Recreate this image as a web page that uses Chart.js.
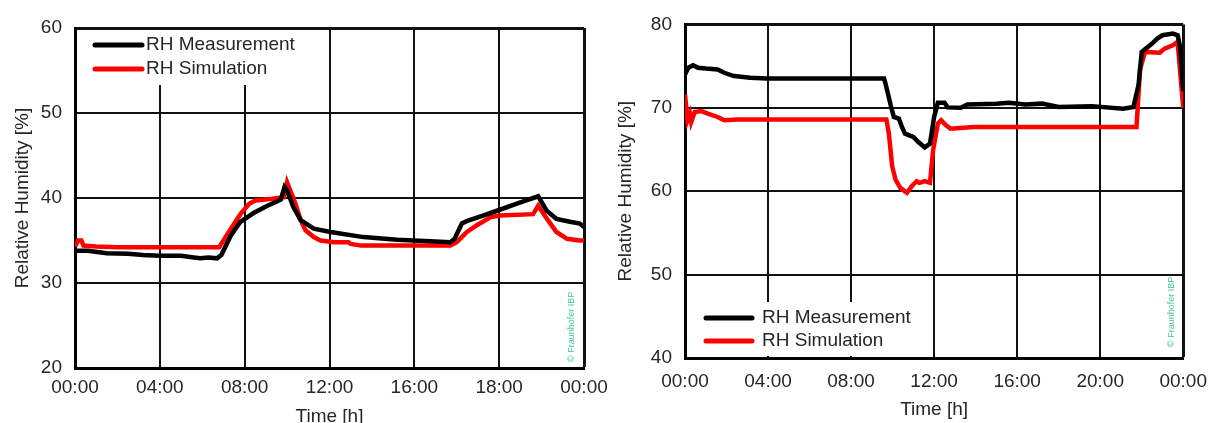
<!DOCTYPE html>
<html lang="en">
<head>
    <meta charset="UTF-8">
    <title>Relative Humidity - Measurement vs Simulation</title>
    <script src="https://cdn.jsdelivr.net/npm/chart.js@4.4.1/dist/chart.umd.min.js"></script>
    <style>
        html, body { margin: 0; padding: 0; background: #fff; overflow: hidden; }
        .panel { position: absolute; top: 0; height: 423px; }
        #leftPanel { left: 0; width: 620px; }
        #rightPanel { left: 600px; width: 619px; }
    </style>
</head>
<body>
    <div class="panel" id="leftPanel"><canvas id="rhLeft"></canvas></div>
    <div class="panel" id="rightPanel"><canvas id="rhRight"></canvas></div>

    <script>
        // left panel data (hours since midnight, RH in %)
        const leftHoursMeasured = [0, 0.6, 1.5, 2.5, 3.2, 4.0, 5.0, 5.6, 5.9, 6.3, 6.7, 6.9, 7.35, 7.8, 8.4, 9.0, 9.7, 9.88, 10.0, 10.3, 10.64, 11.26, 12.05, 13.6, 15.2, 16.75, 17.7, 17.9, 18.24, 18.5, 19.2, 19.9, 20.9, 21.84, 22.24, 22.7, 23.34, 23.8, 24];
        const leftMeasured = [33.8, 33.8, 33.5, 33.45, 33.3, 33.2, 33.2, 33.0, 32.9, 33.0, 32.9, 33.3, 35.6, 37.2, 38.2, 39.0, 39.8, 41.3, 40.9, 38.9, 37.4, 36.4, 36.0, 35.4, 35.1, 34.9, 34.8, 35.2, 37.0, 37.3, 37.9, 38.5, 39.4, 40.2, 38.5, 37.55, 37.2, 37.0, 36.6];
        const leftHoursSimulated = [0, 0.15, 0.3, 0.4, 1.0, 2.0, 3.5, 5.0, 6.8, 7.2, 7.8, 8.2, 8.5, 9.3, 9.85, 10.0, 10.4, 10.64, 10.87, 11.26, 11.58, 12.2, 12.9, 13.0, 13.5, 17.7, 18.0, 18.48, 18.95, 19.6, 20.05, 21.6, 21.84, 22.2, 22.7, 23.2, 23.8, 24];
        const leftSimulated = [34.3, 35.0, 35.0, 34.4, 34.3, 34.2, 34.2, 34.2, 34.2, 35.8, 38.1, 39.3, 39.7, 39.9, 40.1, 41.85, 39.3, 37.4, 36.2, 35.4, 35.0, 34.8, 34.8, 34.6, 34.4, 34.4, 34.8, 36.0, 36.8, 37.75, 37.95, 38.1, 39.1, 37.75, 36.0, 35.2, 35.0, 35.0];
        const leftTimeLabels = ['00:00', '04:00', '08:00', '12:00', '16:00', '18:00', '00:00'];

        // right panel data
        const rightHoursMeasured = [0, 0.16, 0.39, 0.63, 1.0, 1.57, 1.89, 2.36, 3.14, 3.93, 9.59, 9.67, 9.9, 10.06, 10.3, 10.45, 10.6, 11.0, 11.24, 11.55, 11.8, 12.0, 12.18, 12.5, 12.65, 13.28, 13.6, 15.0, 15.6, 16.4, 17.2, 18.0, 19.6, 21.1, 21.6, 21.85, 22.0, 22.5, 22.75, 23.0, 23.5, 23.73, 23.85, 24];
        const rightMeasured = [74.0, 74.8, 75.1, 74.8, 74.7, 74.6, 74.2, 73.8, 73.6, 73.5, 73.5, 72.8, 70.4, 68.9, 68.7, 67.7, 66.9, 66.5, 65.9, 65.25, 65.7, 68.9, 70.6, 70.6, 70.05, 70.0, 70.4, 70.5, 70.6, 70.4, 70.5, 70.1, 70.2, 69.9, 70.1, 72.8, 76.7, 77.7, 78.3, 78.7, 78.9, 78.7, 77.3, 72.0];
        const rightHoursSimulated = [0, 0.12, 0.24, 0.3, 0.47, 0.79, 1.1, 1.57, 1.89, 2.5, 9.7, 9.82, 9.98, 10.14, 10.37, 10.69, 10.92, 11.16, 11.3, 11.55, 11.8, 11.95, 12.18, 12.34, 12.57, 12.8, 13.9, 21.75, 21.92, 22.16, 22.87, 23.1, 23.5, 23.73, 24];
        const rightSimulated = [71.6, 68.5, 69.3, 68.3, 69.5, 69.6, 69.3, 68.9, 68.5, 68.6, 68.6, 66.9, 63.0, 61.4, 60.4, 59.8, 60.6, 61.2, 61.0, 61.2, 61.0, 64.9, 68.1, 68.5, 67.9, 67.5, 67.7, 67.7, 74.6, 76.7, 76.6, 77.1, 77.5, 77.9, 70.0];
        const rightTimeLabels = ['00:00', '04:00', '08:00', '12:00', '16:00', '20:00', '00:00'];

        const seriesNames = ['RH Measurement', 'RH Simulation'];
        const seriesColors = ['#000000', '#ff0000'];

        Chart.defaults.font.family = "'Liberation Sans', Arial, sans-serif";
        Chart.defaults.font.size = 19;
        Chart.defaults.color = '#262626';

        function toPoints(hours, values) {
            return hours.map((h, i) => ({ x: h, y: values[i] }));
        }

        // legend drawn inside the plot on a white box, like the original
        const insideLegend = {
            id: 'insideLegend',
            beforeDatasetsDraw(chart, args, opts) {
                const { ctx, chartArea: a } = chart;
                const boxTop = opts.atBottom ? a.bottom - opts.boxHeight - 2 : a.top + 2;
                ctx.save();
                ctx.fillStyle = '#fff';
                ctx.fillRect(a.left + 2, boxTop, opts.boxWidth, opts.boxHeight);
                ctx.font = "19px 'Liberation Sans', Arial, sans-serif";
                ctx.textBaseline = 'middle';
                ctx.lineCap = 'round';
                chart.data.datasets.forEach((ds, i) => {
                    const y = opts.atBottom ? a.bottom - opts.rows[i] : a.top + opts.rows[i];
                    ctx.strokeStyle = ds.borderColor;
                    ctx.lineWidth = 5;
                    ctx.beginPath();
                    ctx.moveTo(a.left + opts.sampleFrom, y);
                    ctx.lineTo(a.left + opts.sampleTo, y);
                    ctx.stroke();
                    ctx.fillStyle = '#262626';
                    ctx.fillText(ds.label, a.left + opts.textAt, y);
                });
                ctx.restore();
            }
        };

        const watermark = {
            id: 'watermark',
            afterDatasetsDraw(chart, args, opts) {
                const { ctx, chartArea: a } = chart;
                ctx.save();
                ctx.translate(a.right - opts.fromRight, a.bottom - opts.fromBottom);
                ctx.rotate(-Math.PI / 2);
                ctx.font = "9px 'Liberation Sans', Arial, sans-serif";
                ctx.fillStyle = '#43c995';
                ctx.textBaseline = 'middle';
                ctx.fillText('\u00A9 Fraunhofer IBP', 0, 0);
                ctx.restore();
            }
        };

        function buildChart(id, cfg) {
            const ctx = document.getElementById(id).getContext('2d');
            return new Chart(ctx, {
                type: 'line',
                data: {
                    datasets: [
                        {
                            label: seriesNames[0],
                            data: toPoints(cfg.hoursMeasured, cfg.measured),
                            borderColor: seriesColors[0],
                            borderWidth: 4.5,
                            pointRadius: 0,
                            tension: 0
                        },
                        {
                            label: seriesNames[1],
                            data: toPoints(cfg.hoursSimulated, cfg.simulated),
                            borderColor: seriesColors[1],
                            borderWidth: 4.5,
                            pointRadius: 0,
                            tension: 0
                        }
                    ]
                },
                options: {
                    responsive: true,
                    maintainAspectRatio: false,
                    animation: false,
                    layout: { padding: cfg.padding },
                    scales: {
                        x: {
                            type: 'linear',
                            min: 0,
                            max: 24,
                            afterFit: s => { s.height = cfg.xAxisHeight; },
                            ticks: {
                                stepSize: 4,
                                autoSkip: false,
                                maxRotation: 0,
                                padding: cfg.xTickPadding,
                                callback: v => cfg.timeLabels[Math.round(v / 4)]
                            },
                            grid: {
                                color: '#111',
                                drawTicks: false,
                                lineWidth: c => (c.tick && c.tick.value === 24) ? 3 : 2
                            },
                            border: { display: true, color: '#000', width: 3 },
                            title: {
                                display: true,
                                text: 'Time [h]',
                                font: { size: 19, lineHeight: 1 },
                                padding: { top: 0, bottom: cfg.xTitlePad }
                            }
                        },
                        y: {
                            min: cfg.yMin,
                            max: cfg.yMax,
                            afterFit: s => { s.width = cfg.yAxisWidth; },
                            ticks: { stepSize: 10, padding: 13 },
                            grid: {
                                color: '#111',
                                drawTicks: false,
                                lineWidth: c => (c.tick && c.tick.value === cfg.yMax) ? 3 : 2
                            },
                            border: { display: true, color: '#000', width: 3 },
                            title: {
                                display: true,
                                text: 'Relative Humidity [%]',
                                font: { size: 19, lineHeight: 1 },
                                padding: { top: cfg.yTitlePad, bottom: 0 }
                            }
                        }
                    },
                    plugins: {
                        legend: { display: false },
                        tooltip: { enabled: false },
                        insideLegend: cfg.legend,
                        watermark: cfg.watermark
                    }
                },
                plugins: [insideLegend, watermark]
            });
        }

        buildChart('rhLeft', {
            hoursMeasured: leftHoursMeasured,
            measured: leftMeasured,
            hoursSimulated: leftHoursSimulated,
            simulated: leftSimulated,
            timeLabels: leftTimeLabels,
            yMin: 20,
            yMax: 60,
            padding: { top: 28, right: 36, left: 0, bottom: 0 },
            yAxisWidth: 75,
            xAxisHeight: 55,
            xTickPadding: 8,
            xTitlePad: -3,
            yTitlePad: 13,
            legend: { atBottom: false, boxWidth: 228, boxHeight: 55, rows: [17, 41], sampleFrom: 20, sampleTo: 67, textAt: 71 },
            watermark: { fromRight: 12, fromBottom: 6 }
        });

        buildChart('rhRight', {
            hoursMeasured: rightHoursMeasured,
            measured: rightMeasured,
            hoursSimulated: rightHoursSimulated,
            simulated: rightSimulated,
            timeLabels: rightTimeLabels,
            yMin: 40,
            yMax: 80,
            padding: { top: 19, right: 25, left: 0, bottom: 0 },
            yAxisWidth: 85,
            xAxisHeight: 65,
            xTickPadding: 12,
            xTitlePad: 4,
            yTitlePad: 16,
            legend: { atBottom: true, boxWidth: 233, boxHeight: 54, rows: [40, 17], sampleFrom: 21, sampleTo: 67, textAt: 77 },
            watermark: { fromRight: 12, fromBottom: 11 }
        });
    </script>
</body>
</html>
